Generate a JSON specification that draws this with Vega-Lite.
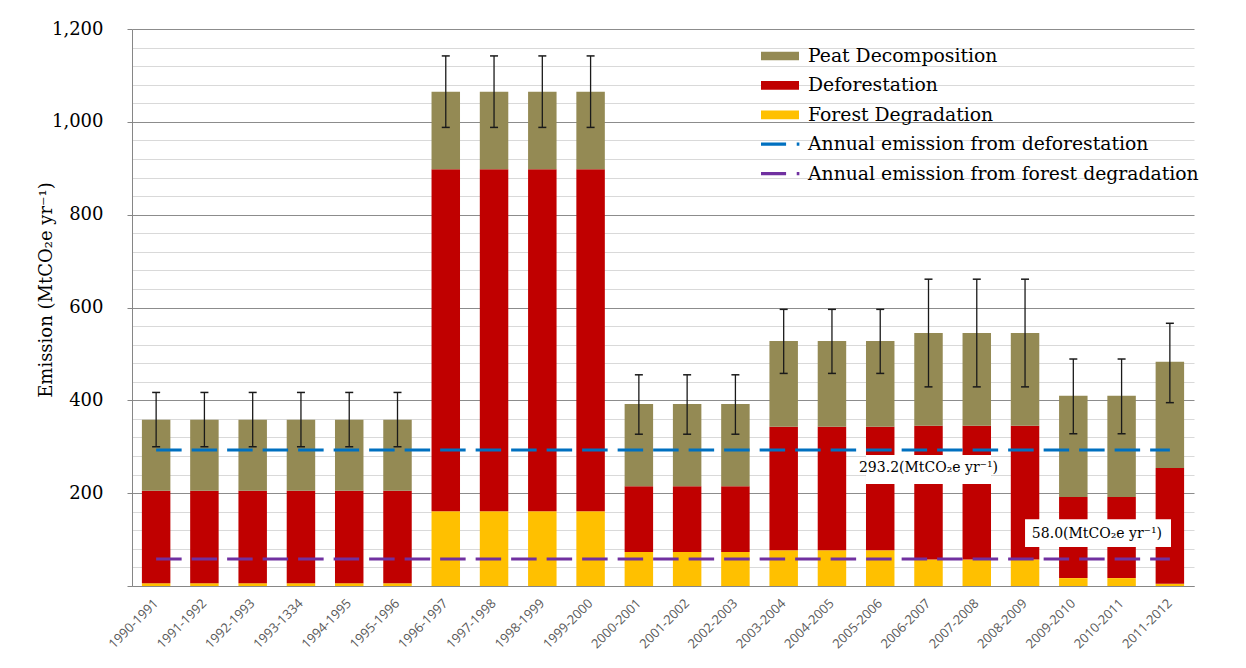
{
  "$schema": "https://vega.github.io/schema/vega-lite/v6.json",
  "width": 1062,
  "height": 557,
  "autosize": {"type": "none"},
  "padding": {"left": 132, "top": 29, "right": 52, "bottom": 82},
  "background": "white",
  "config": {"view": {"stroke": null}, "font": "DejaVu Serif"},
  "datasets": {
    "bars": [
      {"period": "1990-1991", "forest_degradation": 6, "deforestation_top": 205, "peat_top": 358, "err_low": 300, "err_high": 417},
      {"period": "1991-1992", "forest_degradation": 6, "deforestation_top": 205, "peat_top": 358, "err_low": 300, "err_high": 417},
      {"period": "1992-1993", "forest_degradation": 6, "deforestation_top": 205, "peat_top": 358, "err_low": 300, "err_high": 417},
      {"period": "1993-1334", "forest_degradation": 6, "deforestation_top": 205, "peat_top": 358, "err_low": 300, "err_high": 417},
      {"period": "1994-1995", "forest_degradation": 6, "deforestation_top": 205, "peat_top": 358, "err_low": 300, "err_high": 417},
      {"period": "1995-1996", "forest_degradation": 6, "deforestation_top": 205, "peat_top": 358, "err_low": 300, "err_high": 417},
      {"period": "1996-1997", "forest_degradation": 161, "deforestation_top": 898, "peat_top": 1065, "err_low": 988, "err_high": 1142},
      {"period": "1997-1998", "forest_degradation": 161, "deforestation_top": 898, "peat_top": 1065, "err_low": 988, "err_high": 1142},
      {"period": "1998-1999", "forest_degradation": 161, "deforestation_top": 898, "peat_top": 1065, "err_low": 988, "err_high": 1142},
      {"period": "1999-2000", "forest_degradation": 161, "deforestation_top": 898, "peat_top": 1065, "err_low": 988, "err_high": 1142},
      {"period": "2000-2001", "forest_degradation": 73, "deforestation_top": 215, "peat_top": 392, "err_low": 327, "err_high": 455},
      {"period": "2001-2002", "forest_degradation": 73, "deforestation_top": 215, "peat_top": 392, "err_low": 327, "err_high": 455},
      {"period": "2002-2003", "forest_degradation": 73, "deforestation_top": 215, "peat_top": 392, "err_low": 327, "err_high": 455},
      {"period": "2003-2004", "forest_degradation": 77, "deforestation_top": 343, "peat_top": 528, "err_low": 458, "err_high": 596},
      {"period": "2004-2005", "forest_degradation": 77, "deforestation_top": 343, "peat_top": 528, "err_low": 458, "err_high": 596},
      {"period": "2005-2006", "forest_degradation": 77, "deforestation_top": 343, "peat_top": 528, "err_low": 458, "err_high": 596},
      {"period": "2006-2007", "forest_degradation": 57, "deforestation_top": 345, "peat_top": 545, "err_low": 429, "err_high": 661},
      {"period": "2007-2008", "forest_degradation": 57, "deforestation_top": 345, "peat_top": 545, "err_low": 429, "err_high": 661},
      {"period": "2008-2009", "forest_degradation": 57, "deforestation_top": 345, "peat_top": 545, "err_low": 429, "err_high": 661},
      {"period": "2009-2010", "forest_degradation": 17, "deforestation_top": 192, "peat_top": 410, "err_low": 328, "err_high": 489},
      {"period": "2010-2011", "forest_degradation": 17, "deforestation_top": 192, "peat_top": 410, "err_low": 328, "err_high": 489},
      {"period": "2011-2012", "forest_degradation": 5, "deforestation_top": 254, "peat_top": 483, "err_low": 395, "err_high": 566}
    ],
    "lines": [
      {"series": "Annual emission from deforestation", "value": 293.2},
      {"series": "Annual emission from forest degradation", "value": 58.0}
    ]
  },
  "layer": [
    {
      "data": {"name": "bars"},
      "mark": {"type": "bar"},
      "encoding": {
        "x": {
          "field": "period", "type": "nominal", "sort": null,
          "scale": {"paddingInner": 0.41, "paddingOuter": 0.205},
          "axis": {
            "title": null, "labelAngle": -45, "labelAlign": "right", "labelBaseline": "middle",
            "labelFont": "Open Sans", "labelFontSize": 13, "labelColor": "#595959",
            "ticks": false, "labelPadding": 15, "domainColor": "#868686", "grid": false
          }
        },
        "y": {
          "field": "forest_degradation", "type": "quantitative",
          "scale": {"domain": [0, 1200], "nice": false},
          "axis": {
            "title": "Emission (MtCO₂e yr⁻¹)",
            "titleFont": "DejaVu Serif", "titleFontSize": 18, "titleFontWeight": "normal", "titleColor": "#000",
            "titleX": -81, "titleY": 260.5, "titleAngle": 270, "titleBaseline": "alphabetic", "titleAlign": "center",
            "tickCount": 40,
            "values": [0,40,80,120,160,200,240,280,320,360,400,440,480,520,560,600,640,680,720,760,800,840,880,920,960,1000,1040,1080,1120,1160,1200],
            "labelExpr": "datum.value % 200 === 0 && datum.value > 0 ? format(datum.value, ',') : ''",
            "labelOverlap": false,
            "labelFont": "DejaVu Serif", "labelFontSize": 18, "labelColor": "#000", "labelPadding": 24,
            "tickSize": 5, "tickColor": "#868686",
            "tickOpacity": {"condition": {"test": "datum.value % 200 === 0", "value": 1}, "value": 0},
            "gridColor": {"condition": {"test": "datum.value % 200 === 0", "value": "#8c8c8c"}, "value": "#d9d9d9"},
            "gridWidth": 1,
            "domainColor": "#868686"
          }
        },
        "color": {
          "datum": "Forest Degradation",
          "title": null,
          "scale": {
            "domain": ["Peat Decomposition", "Deforestation", "Forest Degradation", "Annual emission from deforestation", "Annual emission from forest degradation"],
            "range": ["#948A54", "#C00000", "#FFC000", "#0070C0", "#7030A0"]
          },
          "legend": {
            "orient": "none", "legendX": 629, "legendY": 17, "title": null, "direction": "vertical",
            "labelFont": "DejaVu Serif", "labelFontSize": 18.8, "labelColor": "#000", "labelLimit": 600,
            "symbolSize": 1444, "clipHeight": 20, "rowPadding": 9.4, "labelOffset": 9, "padding": 0,
            "symbolStrokeWidth": 0,
            "encode": {
              "symbols": {
                "update": {
                  "shape": {"signal": "indexof(datum.value, 'Annual') === 0 ? 'M-1,-0.087H0.32V0.087H-1Z M0.88,-0.087H1.02V0.087H0.88Z' : 'M-1,-0.23H1V0.23H-1Z'"},
                  "fill": {"scale": "color", "field": "value"},
                  "fillOpacity": {"value": 1},
                  "strokeWidth": {"value": 0},
                  "opacity": {"value": 1}
                }
              }
            }
          }
        }
      }
    },
    {
      "data": {"name": "bars"},
      "mark": {"type": "bar"},
      "encoding": {
        "x": {"field": "period", "type": "nominal", "sort": null},
        "y": {"field": "deforestation_top", "type": "quantitative"},
        "y2": {"field": "forest_degradation"},
        "color": {"datum": "Deforestation", "title": null}
      }
    },
    {
      "data": {"name": "bars"},
      "mark": {"type": "bar"},
      "encoding": {
        "x": {"field": "period", "type": "nominal", "sort": null},
        "y": {"field": "peat_top", "type": "quantitative"},
        "y2": {"field": "deforestation_top"},
        "color": {"datum": "Peat Decomposition", "title": null}
      }
    },
    {
      "data": {"name": "bars"},
      "mark": {"type": "rule", "color": "#1a1a1a", "strokeWidth": 1.3},
      "encoding": {
        "x": {"field": "period", "type": "nominal", "sort": null},
        "y": {"field": "err_low", "type": "quantitative"},
        "y2": {"field": "err_high"}
      }
    },
    {
      "data": {"name": "bars"},
      "mark": {"type": "tick", "color": "#1a1a1a", "size": 8, "thickness": 1.5, "opacity": 1},
      "encoding": {
        "x": {"field": "period", "type": "nominal", "sort": null},
        "y": {"field": "err_low", "type": "quantitative"}
      }
    },
    {
      "data": {"name": "bars"},
      "mark": {"type": "tick", "color": "#1a1a1a", "size": 8, "thickness": 1.5, "opacity": 1},
      "encoding": {
        "x": {"field": "period", "type": "nominal", "sort": null},
        "y": {"field": "err_high", "type": "quantitative"}
      }
    },
    {
      "data": {"name": "lines"},
      "mark": {"type": "rule", "strokeWidth": 3, "strokeDash": [25.5, 10]},
      "encoding": {
        "x": {"datum": "1990-1991"},
        "x2": {"datum": "2011-2012"},
        "y": {"field": "value", "type": "quantitative"},
        "color": {"field": "series", "type": "nominal", "title": null}
      }
    },
    {
      "data": {"values": [{}]},
      "mark": {"type": "rect", "fill": "white"},
      "encoding": {
        "x": {"datum": "2005-2006", "bandPosition": 0},
        "x2": {"datum": "2007-2008", "bandPosition": 1},
        "y": {"datum": 220},
        "y2": {"datum": 282}
      }
    },
    {
      "data": {"values": [{}]},
      "mark": {"type": "rect", "fill": "white"},
      "encoding": {
        "x": {"datum": "2008-2009", "bandPosition": 0.5},
        "x2": {"datum": "2011-2012", "bandPosition": 0.54},
        "y": {"datum": 84},
        "y2": {"datum": 144}
      }
    },
    {
      "data": {"values": [{}]},
      "mark": {"type": "text", "text": "293.2(MtCO₂e yr⁻¹)", "font": "DejaVu Serif", "fontSize": 14, "color": "#000", "align": "center", "baseline": "middle"},
      "encoding": {
        "x": {"datum": "2006-2007"},
        "y": {"datum": 254}
      }
    },
    {
      "data": {"values": [{}]},
      "mark": {"type": "text", "text": "58.0(MtCO₂e yr⁻¹)", "font": "DejaVu Serif", "fontSize": 14, "color": "#000", "align": "center", "baseline": "middle"},
      "encoding": {
        "x": {"datum": "2009-2010", "bandPosition": 1.33},
        "y": {"datum": 112}
      }
    }
  ]
}
